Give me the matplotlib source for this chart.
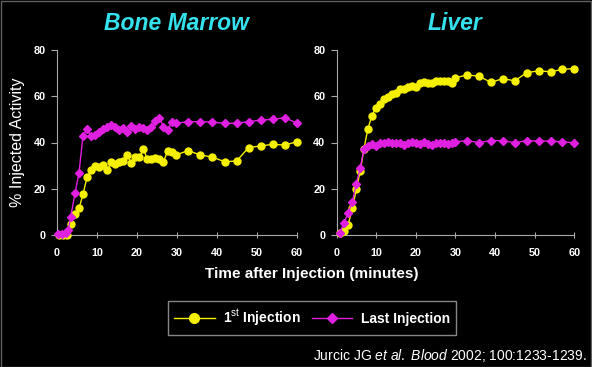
import matplotlib
matplotlib.use("Agg")
import matplotlib.pyplot as plt
from matplotlib.lines import Line2D
from matplotlib.patches import Rectangle

plt.rcParams['font.family'] = ['Liberation Sans', 'DejaVu Sans']
plt.rcParams['mathtext.fontset'] = 'custom'
plt.rcParams['mathtext.rm'] = 'Liberation Sans'
plt.rcParams['mathtext.it'] = 'Liberation Sans:italic'
plt.rcParams['mathtext.bf'] = 'Liberation Sans:bold'

# ---------------- data ----------------
# Bone marrow
bm_t_first = [0.5, 1.5, 2.6, 3.4, 4.5, 5.5, 6.5, 7.5, 8.6, 9.6, 10.6, 11.6, 12.6, 13.6,
              14.6, 15.6, 16.6, 17.6, 18.6, 19.6, 20.6, 21.6, 22.6, 23.6, 24.6, 25.6,
              26.6, 27.7, 28.7, 29.7, 32.8, 35.8, 38.8, 41.9, 44.9, 47.9, 50.9, 53.9,
              56.9, 59.9]
bm_first = [0.0, 0.0, 0.0, 4.9, 8.9, 11.5, 17.6, 25.0, 28.0, 30.0, 29.5, 30.4, 28.0, 31.7,
            30.5, 31.4, 31.8, 34.4, 31.0, 33.9, 33.6, 37.2, 32.7, 32.9, 33.4, 32.9,
            31.6, 36.5, 35.9, 34.6, 36.5, 34.6, 33.7, 31.7, 32.0, 37.8, 38.5, 39.2,
            38.9, 40.3]
bm_t_last = [0.3, 1.3, 2.2, 2.8, 3.4, 4.5, 5.5, 6.5, 7.5, 8.6, 9.6, 10.6, 11.6, 12.6, 13.6,
             14.6, 15.6, 16.6, 17.6, 18.6, 19.6, 20.6, 21.6, 22.6, 23.6, 24.6, 25.6,
             26.6, 27.7, 28.7, 29.7, 32.8, 35.8, 38.8, 41.9, 44.9, 47.9, 50.9, 53.9,
             56.9, 59.9]
bm_last = [0.3, 0.3, 1.0, 2.0, 7.6, 18.0, 27.0, 42.8, 45.7, 42.8, 43.2, 44.4, 45.7, 46.5, 47.4,
           46.8, 45.4, 46.3, 44.5, 47.1, 45.7, 46.8, 46.3, 45.4, 46.5, 49.3, 50.6,
           46.8, 45.4, 49.0, 48.3, 49.0, 49.0, 48.8, 48.3, 48.3, 49.0, 49.7, 50.0,
           50.7, 48.5]

# Liver
lv_t = [0.8, 1.9, 2.9, 4.0, 5.0, 6.0, 6.9, 7.9, 8.9, 9.9, 10.9, 12.0, 13.0, 14.0, 15.0,
        16.0, 17.0, 18.0, 19.0, 20.0, 21.0, 22.1, 23.1, 24.1, 25.1, 26.1, 27.1, 28.1,
        29.1, 30.0, 33.0, 35.9, 39.0, 41.9, 45.0, 48.0, 51.0, 54.0, 57.0, 59.9]
lv_first = [1.0, 1.9, 4.3, 11.5, 19.7, 27.8, 37.0, 45.8, 51.4, 55.0, 56.6, 58.9, 59.5, 61.0,
            61.5, 63.0, 63.0, 64.1, 64.4, 64.1, 65.6, 66.1, 65.9, 65.6, 66.4, 66.7, 66.7,
            66.4, 65.9, 68.0, 69.2, 68.7, 66.0, 67.6, 66.7, 70.2, 71.0, 70.6, 71.6, 72.0]
lv_last = [1.0, 5.2, 9.4, 14.3, 22.2, 29.1, 37.0, 38.5, 39.3, 38.5, 39.6, 39.9, 40.3, 40.0,
           40.0, 39.6, 39.0, 39.6, 40.2, 39.6, 39.2, 40.3, 39.2, 38.8, 39.6, 40.0, 39.6,
           39.2, 40.0, 40.3, 40.8, 40.0, 40.8, 40.8, 39.9, 40.8, 40.6, 40.6, 40.3, 39.9]

panel_titles = ["Bone Marrow", "Liver"]
x_ticks = [0, 10, 20, 30, 40, 50, 60]
y_ticks = [0, 20, 40, 60, 80]
legend_labels = ["1$^{\\mathrm{st}}$ Injection", "Last Injection"]
y_label = "% Injected Activity"
x_label = "Time after Injection (minutes)"
citation = "Jurcic JG $\\mathit{et\\ al.}$ $\\mathit{Blood}$ 2002; 100:1233-1239."

# ---------------- style ----------------
YEL = '#f5f000'
MAG = '#e020e0'
CYAN = '#33e2ec'
AXC = '#a8a8a8'

fig = plt.figure(figsize=(5.92, 3.67), dpi=100, facecolor='black')

axL = fig.add_axes([57/592, 1-235/367, 240/592, 185/367])
axR = fig.add_axes([336.5/592, 1-235/367, 237.8/592, 185/367])

def style(ax):
    ax.set_facecolor('black')
    ax.set_xlim(0, 60)
    ax.set_ylim(0, 80)
    ax.set_xticks(x_ticks)
    ax.set_yticks(y_ticks)
    for s in ['top', 'right']:
        ax.spines[s].set_visible(False)
    for s in ['left', 'bottom']:
        ax.spines[s].set_color(AXC)
        ax.spines[s].set_linewidth(0.8)
    ax.tick_params(axis='y', colors=AXC, length=4, width=0.8, direction='out',
                   labelcolor='white', labelsize=7.8, pad=4)
    ax.tick_params(axis='x', colors=AXC, length=5, width=0.8, direction='inout',
                   labelcolor='white', labelsize=7.8, pad=6.5)
    for lab in ax.get_xticklabels() + ax.get_yticklabels():
        lab.set_fontweight('bold')

def plot_pair(ax, t1, y1, t2, y2):
    ax.plot(t1, y1, color=YEL, lw=1.0, marker='o', ms=5.0, mec=YEL, mfc=YEL, clip_on=False, zorder=3)
    ax.plot(t2, y2, color=MAG, lw=1.0, marker='D', ms=4.0, mec=MAG, mfc=MAG, clip_on=False, zorder=4)

plot_pair(axL, bm_t_first, bm_first, bm_t_last, bm_last)
plot_pair(axR, lv_t, lv_first, lv_t, lv_last)
style(axL)
style(axR)

fig.text(176/592, 1-23/367, panel_titles[0], color=CYAN, fontsize=16.5, fontweight='bold',
         fontstyle='italic', ha='center', va='center')
fig.text(455/592, 1-23/367, panel_titles[1], color=CYAN, fontsize=16.5, fontweight='bold',
         fontstyle='italic', ha='center', va='center')

fig.text(18/592, 1-142/367, y_label, color='white', fontsize=11.5, rotation=90,
         ha='center', va='center')
fig.text(312/592, 1-274/367, x_label, color='white', fontsize=11, fontweight='bold',
         ha='center', va='center')

handles = [Line2D([], [], color=YEL, lw=1.0, marker='o', ms=7, mec=YEL, mfc=YEL),
           Line2D([], [], color=MAG, lw=1.0, marker='D', ms=5, mec=MAG, mfc=MAG)]
leg = fig.legend(handles, legend_labels, loc='center', bbox_to_anchor=(312/592, 1-318/367),
                 ncol=2, frameon=True, fancybox=False, facecolor='black', edgecolor=AXC,
                 fontsize=10, handlelength=2.9, columnspacing=0.8, handletextpad=0.6,
                 borderpad=0.45)
for txt in leg.get_texts():
    txt.set_color('white')
    txt.set_fontweight('bold')
leg.get_frame().set_linewidth(1.0)

fig.text(587/592, 1-355/367, citation, color='white', fontsize=10, ha='right', va='center')

fig.patches.append(Rectangle((0.001, 0.001), 0.998, 0.997, transform=fig.transFigure,
                             fill=False, edgecolor='#606060', lw=1.0))

fig.savefig('out.png', dpi=100, facecolor='black')
